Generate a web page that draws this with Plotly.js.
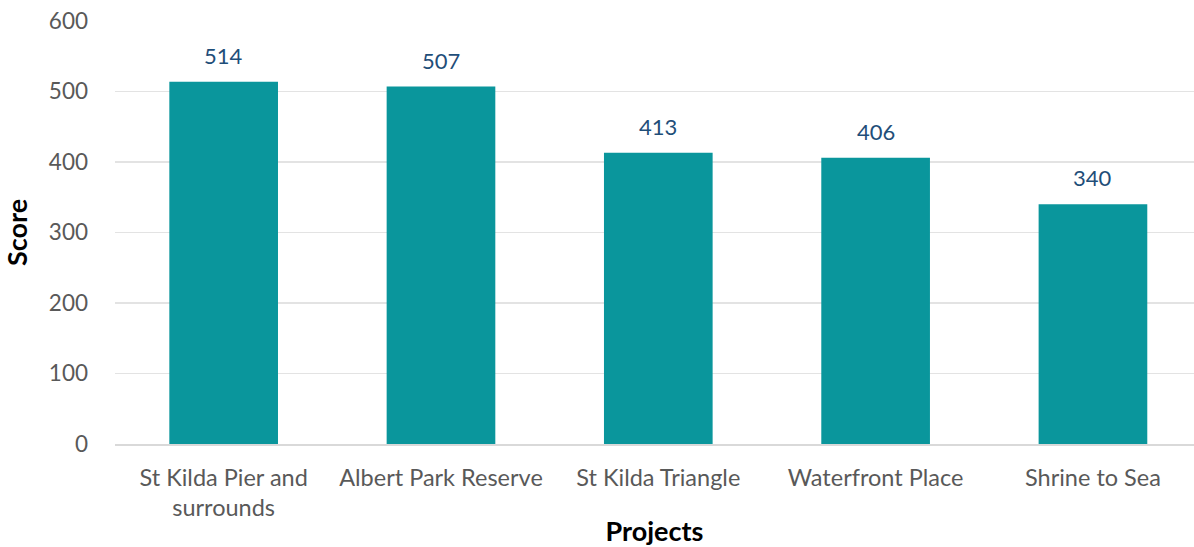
<!DOCTYPE html>
<html>
<head>
<meta charset="utf-8">
<script src="https://cdn.plot.ly/plotly-3.0.1.min.js"></script>
<style>html,body{margin:0;padding:0;background:#fff;}#chart{width:1194px;height:547px;}</style>
</head>
<body>
<div id="chart"></div>
<script>
const categories = ["St Kilda Pier and<br>surrounds", "Albert Park Reserve", "St Kilda Triangle", "Waterfront Place", "Shrine to Sea"];
const scores = [514, 507, 413, 406, 340];
const yTicks = [0, 100, 200, 300, 400, 500, 600];

const FONT = "Lato, 'Open Sans', sans-serif";

const trace = {
  type: "bar",
  x: categories,
  y: scores,
  marker: {color: "#0A969C"},
  hoverinfo: "x+y"
};

const annotations = categories.map((c, i) => ({
  x: c, y: scores[i], xref: "x", yref: "y",
  text: String(scores[i]), showarrow: false,
  yanchor: "bottom", yshift: 11,
  font: {family: FONT, size: 22, color: "#1F4E79"}
}));

const layout = {
  width: 1194, height: 547,
  margin: {l: 115, r: 0, t: 21, b: 103},
  paper_bgcolor: "#fff", plot_bgcolor: "#fff",
  bargap: 0.5,
  showlegend: false,
  font: {family: FONT, size: 22, color: "#595959"},
  xaxis: {
    type: "category",
    range: [-0.5, 4.465],
    showgrid: false,
    showline: true, linecolor: "#D9D9D9", linewidth: 1.5,
    ticks: "", ticklabelstandoff: 12,
    tickfont: {family: FONT, size: 23.5, color: "#595959"},
    title: {text: "Projects", font: {family: FONT, size: 27, color: "#000", weight: "bold"}, standoff: 2}
  },
  yaxis: {
    range: [0, 600],
    tickvals: yTicks,
    showgrid: true, gridcolor: "#E3E3E3", gridwidth: 1.5,
    zeroline: false, showline: false,
    ticks: "", ticklabelstandoff: 26,
    tickfont: {family: FONT, size: 22.5, color: "#595959"},
    title: {text: "Score", font: {family: FONT, size: 27, color: "#000", weight: "bold"}, standoff: 14}
  },
  annotations: annotations
};

Plotly.newPlot("chart", [trace], layout, {displayModeBar: false, staticPlot: true});
</script>
</body>
</html>
